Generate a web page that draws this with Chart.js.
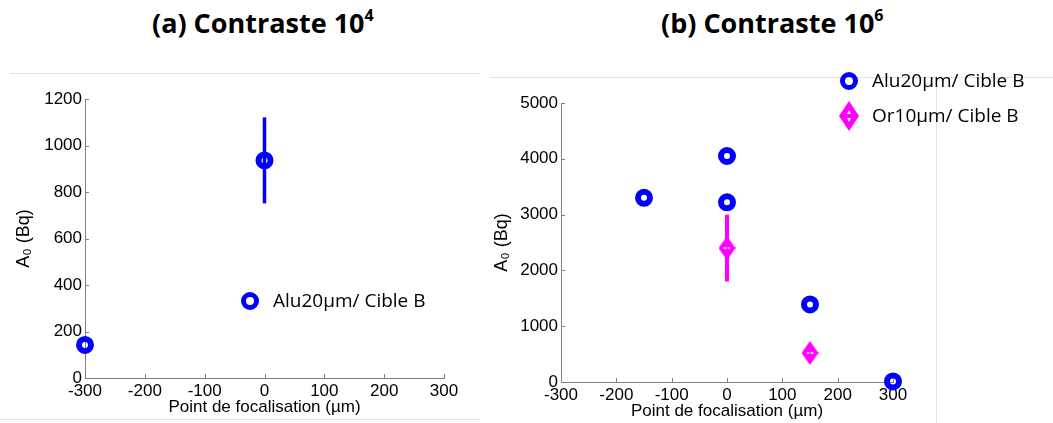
<!DOCTYPE html>
<html>
<head>
<meta charset="utf-8">
<script src="https://cdn.jsdelivr.net/npm/chart.js@4"></script>
<style>
  body { margin: 0; background: #fff; width: 1053px; height: 423px; overflow: hidden; position: relative; }
  .title { position: absolute; top: 4px; font-family: 'Open Sans', sans-serif; font-weight: bold; font-size: 27px; color: #000; white-space: nowrap; }
  .title sup { font-size: 16px; position: relative; top: -2px; }
  .frame { position: absolute; background: #e3e3e3; }
  #wrapA { position: absolute; left: 0; top: 0; width: 480px; height: 423px; }
  #wrapB { position: absolute; left: 490px; top: 0; width: 563px; height: 423px; }
</style>
</head>
<body>
<div class="frame" style="left:10px; top:73px; width:470px; height:1px;"></div>
<div class="frame" style="left:0; top:419px; width:480px; height:1px;"></div>
<div class="frame" style="left:490px; top:77px; width:563px; height:1px;"></div>
<div class="frame" style="left:936px; top:77px; width:1px; height:346px;"></div>
<div class="title" style="left:152px;">(a) Contraste 10<sup>4</sup></div>
<div class="title" style="left:661px;">(b) Contraste 10<sup>6</sup></div>
<div id="wrapA"><canvas id="chartA"></canvas></div>
<div id="wrapB"><canvas id="chartB"></canvas></div>
<script>
// Data
const xTicks = [-300, -200, -100, 0, 100, 200, 300];
const yTicksA = [0, 200, 400, 600, 800, 1000, 1200];
const yTicksB = [0, 1000, 2000, 3000, 4000, 5000];

// (a) Contraste 10^4
const focusAluA = [-300, 0];
const aluA = [142, 936];
const aluAErr = [0, 185];

// (b) Contraste 10^6
const focusAluB = [-150, 0, 0, 150, 300];
const aluB = [3300, 4050, 3220, 1390, 10];
const aluBErr = [0, 0, 0, 0, 0];
const focusOrB = [0, 150];
const orB = [2400, 520];
const orBErr = [600, 0];

const BLUE = '#0000ff';
const MAGENTA = '#ff00ff';
const AXIS = '#808080';

// Tall diamond marker as an image
function makeDiamond(w, h, legend) {
    var c = document.createElement('canvas');
    c.width = w; c.height = h;
    var g = c.getContext('2d');
    g.fillStyle = MAGENTA;
    g.beginPath();
    g.moveTo(w / 2, 0); g.lineTo(w, h / 2); g.lineTo(w / 2, h); g.lineTo(0, h / 2);
    g.closePath(); g.fill();
    g.fillStyle = '#fff';
    if (legend) {
        g.beginPath();
        g.moveTo(w / 2, h / 2 - 6); g.lineTo(w / 2 + 2, h / 2 - 2); g.lineTo(w / 2 - 2, h / 2 - 2);
        g.closePath(); g.fill();
        g.beginPath();
        g.moveTo(w / 2, h / 2 + 6); g.lineTo(w / 2 + 2, h / 2 + 2); g.lineTo(w / 2 - 2, h / 2 + 2);
        g.closePath(); g.fill();
    } else {
        g.fillRect(w / 2 - 3, h / 2 - 1, 2, 2);
        g.fillRect(w / 2 + 1, h / 2 - 1, 2, 2);
    }
    return c;
}
const diamondPoint = makeDiamond(17, 24, false);
const diamondLegend = makeDiamond(20, 30, true);

function points(xs, ys) {
    return xs.map((x, i) => ({x: x, y: ys[i]}));
}

// Error bars as line segments separated by gaps
function errorBars(xs, ys, errs) {
    var out = [];
    xs.forEach((x, i) => {
        if (errs[i] > 0) {
            out.push({x: x, y: ys[i] - errs[i]});
            out.push({x: x, y: ys[i] + errs[i]});
            out.push({x: x, y: null});
        }
    });
    return out;
}

// Inward tick marks (MATLAB style)
const innerTicks = {
    id: 'innerTicks',
    afterDraw(chart) {
        var ctx = chart.ctx;
        var area = chart.chartArea;
        ctx.save();
        ctx.strokeStyle = AXIS;
        ctx.lineWidth = 1;
        ctx.beginPath();
        chart.scales.x.ticks.forEach(t => {
            var px = Math.round(chart.scales.x.getPixelForValue(t.value)) + 0.5;
            ctx.moveTo(px, area.bottom);
            ctx.lineTo(px, area.bottom - 4);
        });
        chart.scales.y.ticks.forEach(t => {
            var py = Math.round(chart.scales.y.getPixelForValue(t.value)) + 0.5;
            ctx.moveTo(area.left, py);
            ctx.lineTo(area.left + 4, py);
        });
        ctx.stroke();
        ctx.restore();
    }
};

// Legend drawn at a fixed place in the canvas
function legendPlugin(items) {
    return {
        id: 'fixedLegend',
        afterDraw(chart) {
            var ctx = chart.ctx;
            ctx.save();
            ctx.font = '19px "Open Sans"';
            ctx.textBaseline = 'middle';
            items.forEach(it => {
                if (it.marker === 'circle') {
                    ctx.strokeStyle = BLUE;
                    ctx.lineWidth = 5;
                    ctx.beginPath();
                    ctx.arc(it.x, it.y, 6.5, 0, Math.PI * 2);
                    ctx.stroke();
                } else {
                    ctx.drawImage(diamondLegend, it.x - diamondLegend.width / 2, it.y - diamondLegend.height / 2);
                }
                ctx.fillStyle = '#000';
                ctx.fillText(it.label, it.textX, it.y + 1);
            });
            ctx.restore();
        }
    };
}

function axisOptions(ticks, min, max, title, titlePad, tickPad, titleSize) {
    return {
        type: 'linear',
        min: min,
        max: max,
        afterBuildTicks: s => { s.ticks = ticks.map(v => ({value: v})); },
        grid: { display: false, drawTicks: false },
        border: { display: true, color: AXIS, width: 1 },
        ticks: {
            color: '#000',
            padding: tickPad,
            maxRotation: 0,
            autoSkip: false,
            callback: v => String(v),
            font: { family: '"Liberation Sans", Arial, sans-serif', size: 17 }
        },
        title: {
            display: true,
            text: title,
            color: '#000',
            padding: titlePad,
            font: { family: '"Liberation Sans", Arial, sans-serif', size: titleSize }
        }
    };
}

function makeChart(id, datasets, cfg) {
    var xAxis = axisOptions(xTicks, -300, 300, 'Point de focalisation (µm)', {top: 0, bottom: 0}, 3, 17);
    xAxis.afterFit = s => { s.height = cfg.xHeight; };
    var yAxis = axisOptions(cfg.yTicks, 0, cfg.yMax, 'A₀ (Bq)', {top: cfg.yTitlePad, bottom: 0}, 3, 18);
    yAxis.afterFit = s => { s.width = cfg.yWidth; };
    new Chart(document.getElementById(id), {
        type: 'scatter',
        data: { datasets: datasets },
        options: {
            responsive: true,
            maintainAspectRatio: false,
            animation: false,
            layout: { padding: cfg.padding },
            plugins: { legend: { display: false }, tooltip: { enabled: false }, title: { display: false } },
            scales: { x: xAxis, y: yAxis }
        },
        plugins: [innerTicks, legendPlugin(cfg.legend)]
    });
}

function ringSet(xs, ys) {
    return {
        type: 'scatter',
        data: points(xs, ys),
        order: 1,
        pointStyle: 'circle',
        pointRadius: 6,
        pointBorderWidth: 6,
        pointBorderColor: BLUE,
        pointBackgroundColor: 'rgba(0,0,0,0)',
        clip: false
    };
}

function errSet(xs, ys, errs, color, width) {
    return {
        type: 'line',
        data: errorBars(xs, ys, errs),
        order: 2,
        borderColor: color,
        borderWidth: width,
        pointRadius: 0,
        spanGaps: false,
        fill: false,
        clip: false
    };
}

// (a)
makeChart('chartA', [
    errSet(focusAluA, aluA, aluAErr, BLUE, 3.5),
    ringSet(focusAluA, aluA)
], {
    yTicks: yTicksA, yMax: 1200,
    padding: {left: 0, right: 36, top: 99, bottom: 5},
    xHeight: 40, yWidth: 85, yTitlePad: 13,
    legend: [{marker: 'circle', x: 250, y: 301, textX: 273, label: 'Alu20µm/ Cible B'}]
});

// (b)
makeChart('chartB', [
    errSet(focusOrB, orB, orBErr, MAGENTA, 4),
    {
        type: 'scatter',
        data: points(focusOrB, orB),
        order: 1,
        pointStyle: diamondPoint,
        pointRadius: 8,
        clip: false
    },
    ringSet(focusAluB, aluB)
], {
    yTicks: yTicksB, yMax: 5000,
    padding: {left: 0, right: 160, top: 103, bottom: 1},
    xHeight: 40, yWidth: 71, yTitlePad: 1,
    legend: [
        {marker: 'circle', x: 359, y: 81, textX: 382, label: 'Alu20µm/ Cible B'},
        {marker: 'diamond', x: 359, y: 116, textX: 382, label: 'Or10µm/ Cible B'}
    ]
});
</script>
</body>
</html>
